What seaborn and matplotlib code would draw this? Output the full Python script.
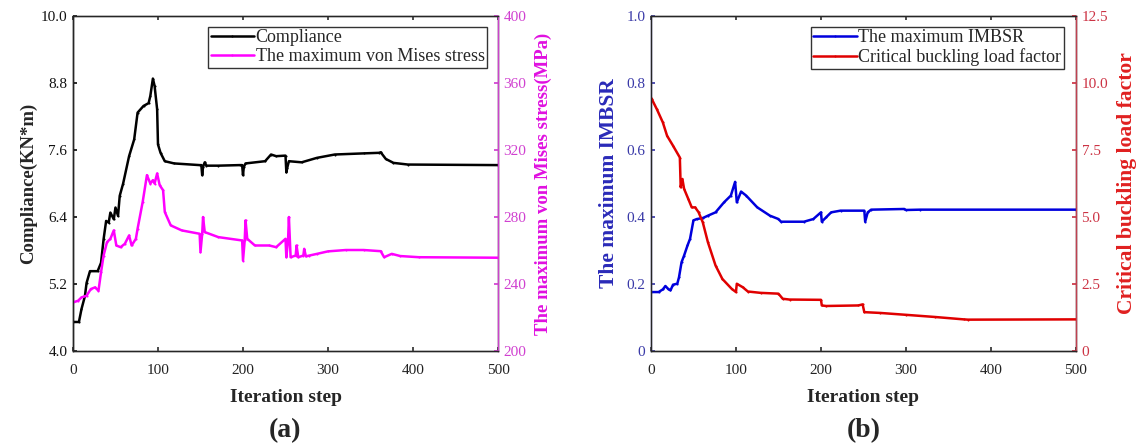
import numpy as np
import pandas as pd
import matplotlib
matplotlib.use("Agg")
import matplotlib.pyplot as plt
import seaborn as sns

# (a) compliance
comp_iter = [0, 7, 10, 14, 16, 20, 29, 33, 36, 39, 42, 44, 48, 50, 53, 55, 59, 66, 72, 76,
             83, 89, 91, 94, 96, 99, 100, 103, 108, 119, 149, 151, 152, 153, 155, 157, 171,
             196, 199, 200, 201, 203, 226, 233, 239, 250, 251, 252, 254, 269, 287, 308, 342,
             360, 362, 368, 377, 394, 500]
comp_val = [4.52, 4.52, 4.75, 4.98, 5.22, 5.43, 5.43, 5.58, 6.0, 6.33, 6.30, 6.48, 6.36, 6.57,
            6.42, 6.78, 7.0, 7.49, 7.79, 8.27, 8.39, 8.44, 8.57, 8.88, 8.75, 8.33, 7.70, 7.55,
            7.40, 7.36, 7.33, 7.33, 7.15, 7.30, 7.38, 7.32, 7.32, 7.33, 7.33, 7.15, 7.30, 7.36,
            7.40, 7.52, 7.49, 7.50, 7.20, 7.28, 7.40, 7.38, 7.46, 7.52, 7.54, 7.55, 7.56, 7.44,
            7.37, 7.34, 7.33]

# (a) maximum von Mises stress (MPa)
stress_iter = [0, 6, 10, 16, 21, 26, 30, 33, 36, 40, 44, 48, 51, 56, 61, 66, 69, 74, 76, 82,
               87, 91, 94, 96, 99, 102, 106, 108, 115, 128, 149, 150, 152, 153, 155, 171, 199,
               200, 202, 203, 205, 214, 231, 239, 250, 251, 253, 254, 256, 262, 263, 265, 271,
               272, 274, 278, 287, 300, 321, 342, 362, 366, 375, 385, 407, 500]
stress_val = [229, 230, 232, 233, 237, 238, 236, 247, 257, 265, 267, 272, 263, 262, 264, 269,
              263, 267, 273, 289, 305, 300, 302, 300, 306, 299, 296, 283, 275, 272, 270, 259,
              270, 280, 271, 268, 266, 254, 266, 278, 267, 263, 263, 262, 267, 256, 266, 280,
              256, 257, 263, 256, 257, 261, 256.5, 257, 258, 259.5, 260.3, 260.3, 259.6, 256,
              258, 256.7, 256, 255.7]

# (b) maximum IMBSR
imbsr_iter = [0, 9, 14, 17, 20, 23, 26, 31, 33, 36, 39, 43, 46, 50, 54, 61, 67, 76, 86, 94,
              99, 101, 106, 112, 125, 140, 150, 153, 180, 191, 200, 201, 206, 212, 223, 251,
              252, 255, 259, 298, 300, 317, 500]
imbsr_val = [0.176, 0.176, 0.184, 0.194, 0.186, 0.181, 0.198, 0.201, 0.22, 0.265, 0.285,
             0.315, 0.335, 0.39, 0.394, 0.397, 0.404, 0.414, 0.444, 0.464, 0.505, 0.444,
             0.476, 0.464, 0.429, 0.404, 0.394, 0.386, 0.386, 0.394, 0.414, 0.386, 0.399,
             0.414, 0.419, 0.419, 0.386, 0.414, 0.422, 0.424, 0.421, 0.422, 0.422]

# (b) critical buckling load factor
buck_iter = [0, 1, 7, 14, 19, 26, 34, 35, 37, 39, 44, 48, 52, 56, 61, 67, 76, 84, 95, 100,
             101, 108, 114, 129, 150, 155, 163, 200, 201, 206, 244, 249, 251, 270, 300, 334,
             368, 373, 500]
buck_val = [9.45, 9.40, 9.02, 8.53, 8.03, 7.66, 7.22, 6.11, 6.42, 6.05, 5.67, 5.36, 5.36,
            5.18, 4.80, 4.06, 3.19, 2.69, 2.32, 2.20, 2.51, 2.38, 2.22, 2.17, 2.14, 1.95,
            1.92, 1.91, 1.70, 1.68, 1.70, 1.74, 1.45, 1.42, 1.35, 1.27, 1.18, 1.17, 1.18]

x_ticks = [0, 100, 200, 300, 400, 500]
comp_ticks = [4.0, 5.2, 6.4, 7.6, 8.8, 10.0]
stress_ticks = [200, 240, 280, 320, 360, 400]
imbsr_ticks = [0, 0.2, 0.4, 0.6, 0.8, 1.0]
imbsr_labels = ["0", "0.2", "0.4", "0.6", "0.8", "1.0"]
buck_ticks = [0, 2.5, 5.0, 7.5, 10.0, 12.5]
buck_labels = ["0", "2.5", "5.0", "7.5", "10.0", "12.5"]

sns.set_theme(style="ticks")
plt.rcParams['font.family'] = ['Liberation Serif', 'DejaVu Serif']

fig = plt.figure(figsize=(11.42, 4.46), dpi=100)
ax_a = fig.add_axes([0.0639, 0.213, 0.3722, 0.751])
ax_b = fig.add_axes([0.570, 0.213, 0.3722, 0.751])

MAG = '#ff00ff'
BLUE = '#0000dd'
RED = '#e00000'
TICK_FS = 11
line_kw = dict(lw=1.8, marker='.', markersize=3, markeredgewidth=0, sort=False,
               estimator=None, legend=False)


def style_pair(ax, ax2, lcol, ltick, rcol, rtick, rspine):
    ax.set_xlim(0, 500)
    ax.set_xticks(x_ticks)
    ax.tick_params(axis='x', direction='in', length=3, labelsize=TICK_FS, colors='#333333',
                   top=True, pad=9)
    ax.tick_params(axis='x', labelcolor='#222222')
    ax.tick_params(axis='y', direction='in', length=3, labelsize=TICK_FS, colors=ltick, pad=4)
    ax2.tick_params(axis='y', direction='in', length=3, labelsize=TICK_FS, colors=rtick, pad=4)
    for s in ['top', 'bottom']:
        ax.spines[s].set_color('#555555')
    ax.spines['left'].set_color(lcol)
    ax2.spines['right'].set_color(rspine)
    for a in (ax, ax2):
        for s in a.spines.values():
            s.set_linewidth(1.0)
    ax.set_xlabel('Iteration step', fontsize=14, fontweight='bold', labelpad=9)


# ---- (a)
df_c = pd.DataFrame({'step': comp_iter, 'val': comp_val})
df_s = pd.DataFrame({'step': stress_iter, 'val': stress_val})
sns.lineplot(data=df_c, x='step', y='val', ax=ax_a, color='black', **line_kw)
ax_a2 = ax_a.twinx()
sns.lineplot(data=df_s, x='step', y='val', ax=ax_a2, color=MAG, **line_kw)
ax_a.set_ylim(4.0, 10.0)
ax_a.set_yticks(comp_ticks)
ax_a.set_yticklabels([f"{t:.1f}" for t in comp_ticks])
ax_a2.set_ylim(200, 400)
ax_a2.set_yticks(stress_ticks)
ax_a.set_ylabel('Compliance(KN*m)', fontsize=13.5, fontweight='bold', labelpad=3)
ax_a2.set_ylabel('The maximum von Mises stress(MPa)', fontsize=13.5, fontweight='bold',
                 color='#e010e0', labelpad=6)
style_pair(ax_a, ax_a2, 'black', '#111111', '#cc44cc', '#d040d0', '#cc44cc')

h_a = [ax_a.lines[0], ax_a2.lines[0]]
ax_a2.legend(h_a, ['Compliance', 'The maximum von Mises stress'], loc='upper right',
             bbox_to_anchor=(0.975, 0.968), fontsize=13, frameon=True, fancybox=False,
             edgecolor='black', handlelength=2.4, handletextpad=0.1, borderpad=0.15,
             labelspacing=0.1, borderaxespad=0)

# ---- (b)
df_i = pd.DataFrame({'step': imbsr_iter, 'val': imbsr_val})
df_b = pd.DataFrame({'step': buck_iter, 'val': buck_val})
sns.lineplot(data=df_i, x='step', y='val', ax=ax_b, color=BLUE, **line_kw)
ax_b2 = ax_b.twinx()
sns.lineplot(data=df_b, x='step', y='val', ax=ax_b2, color=RED, **line_kw)
ax_b.set_ylim(0, 1.0)
ax_b.set_yticks(imbsr_ticks)
ax_b.set_yticklabels(imbsr_labels)
ax_b2.set_ylim(0, 12.5)
ax_b2.set_yticks(buck_ticks)
ax_b2.set_yticklabels(buck_labels)
ax_b.set_ylabel('The maximum IMBSR', fontsize=15.5, fontweight='bold', color='#2a2ab8',
                labelpad=5)
ax_b2.set_ylabel('Critical buckling load factor', fontsize=15.5, fontweight='bold',
                 color='#e02020', labelpad=6)
style_pair(ax_b, ax_b2, '#6060b0', '#3a3aa8', '#c04050', '#cc3344', '#c04050')

h_b = [ax_b.lines[0], ax_b2.lines[0]]
ax_b2.legend(h_b, ['The maximum IMBSR', 'Critical buckling load factor'], loc='upper right',
             bbox_to_anchor=(0.972, 0.968), fontsize=13, frameon=True, fancybox=False,
             edgecolor='black', handlelength=2.4, handletextpad=0.1, borderpad=0.15,
             labelspacing=0.1, borderaxespad=0)

for ax in (ax_a2, ax_b2):
    ax.get_legend().get_frame().set_linewidth(1.0)

fig.text(0.2498, 0.035, '(a)', ha='center', va='center', fontsize=20, fontweight='bold')
fig.text(0.7561, 0.035, '(b)', ha='center', va='center', fontsize=20, fontweight='bold')

fig.savefig('out.png', dpi=100)
